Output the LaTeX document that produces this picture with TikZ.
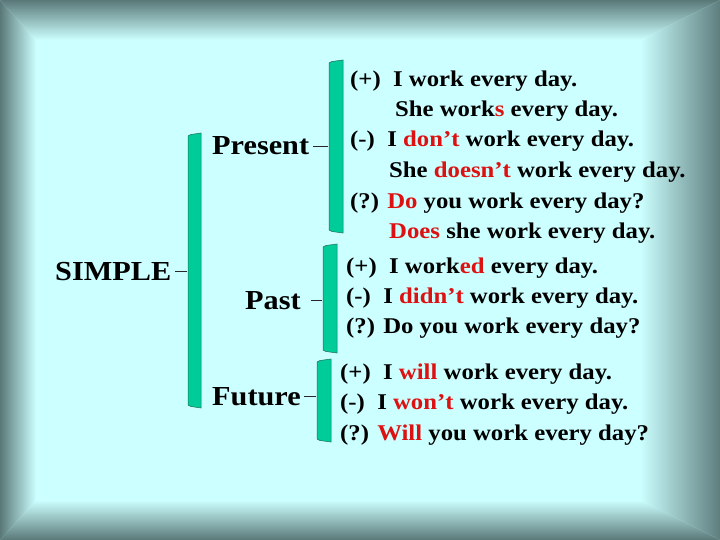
\documentclass[tikz,border=0pt]{standalone}
\usepackage{fontspec}
\setmainfont{Liberation Serif}[FakeStretch=1.1]
\definecolor{bgcyan}{HTML}{CCFFFF}
\definecolor{edgedark}{HTML}{5A7878}
\definecolor{edgedark2}{HTML}{5E7E7E}
\definecolor{barg}{HTML}{00CC99}
\definecolor{bardark}{HTML}{1E6E55}
\definecolor{hl}{HTML}{DD1111}
\tikzset{
  line/.style={anchor=base west,inner sep=0pt,font=\fontsize{22.5}{27}\selectfont\bfseries},
  lbl/.style={anchor=base west,inner sep=0pt,font=\fontsize{27.5}{32}\selectfont\bfseries},
  conn/.style={draw=black!85,line width=0.9pt},
  barfill/.style={fill=barg,draw=bardark,line width=0.5pt}
}
\newcommand{\rd}[1]{\textcolor{hl}{#1}}
\newcommand{\brbar}[5]{% x1 x2 ytop ybot name
  \path[barfill] (#1,#3+2) -- (#1+3,#3+0.5) -- (#2,#3-1) -- (#2,#4+1) -- (#1+3,#4-0.5) -- (#1,#4-2) -- cycle;
}
\begin{document}
\begin{tikzpicture}[x=1pt,y=-1pt]
\useasboundingbox (0,0) rectangle (720,540);
% background with bevel frame
\fill[bgcyan] (0,0) rectangle (720,540);
\shade[top color=edgedark,bottom color=bgcyan] (0,0) -- (720,0) -- (640,40) -- (36,40) -- cycle;
\shade[left color=edgedark,right color=bgcyan] (0,0) -- (36,40) -- (36,500) -- (0,540) -- cycle;
\shade[left color=bgcyan,right color=edgedark2] (720,0) -- (640,40) -- (640,500) -- (720,540) -- cycle;
\shade[top color=bgcyan,bottom color=edgedark] (0,540) -- (36,500) -- (640,500) -- (720,540) -- cycle;
% brackets
\brbar{188}{201}{134}{407}{}
\brbar{329}{343}{61}{232}{}
\brbar{323}{337}{245}{352}{}
\brbar{317}{331}{360}{441}{}
\coordinate (bigtip) at (187,271);
\coordinate (pretip) at (328,146);
\coordinate (pasttip) at (322,300);
\coordinate (futtip) at (316,396);
% labels
\node[lbl] (simple) at (55,280) {SIMPLE};
\node[lbl] (present) at (212,155) {Present};
\node[lbl] (past) at (245,309) {Past};
\node[lbl] (future) at (212,405) {Future};
% connectors
\draw[conn] (simple.east |- bigtip) ++(4,0) coordinate (sA) -- (bigtip);
\draw[conn] (present.east |- pretip) ++(4,0) coordinate (pA) -- (pretip);
\draw[conn] (past.east |- pasttip) ++(10,0) coordinate (paA) -- (pasttip);
\draw[conn] (future.east |- futtip) ++(3,0) coordinate (fA) -- (futtip);
% present
\node[line] (p1) at (350,87) {(+)\ \ I work every day.};
\node[line] (p2) at (395,117) {She work\rd{s} every day.};
\node[line] (p3) at (350,147) {(-)\ \ I \rd{don’t} work every day.};
\node[line] (p4) at (389,178) {She \rd{doesn’t} work every day.};
\node[line] (p5) at (350,208) {(?) \rd{Do} you work every day?};
\node[line] (p6) at (389,239) {\rd{Does} she work every day.};
% past
\node[line] (s1) at (346,273) {(+)\ \ I work\rd{ed} every day.};
\node[line] (s2) at (346,303) {(-)\ \ I \rd{didn’t} work every day.};
\node[line] (s3) at (346,333) {(?) Do you work every day?};
% future
\node[line] (f1) at (340,379) {(+)\ \ I \rd{will} work every day.};
\node[line] (f2) at (340,409) {(-)\ \ I \rd{won’t} work every day.};
\node[line] (f3) at (340,440) {(?) \rd{Will} you work every day?};
\end{tikzpicture}
\end{document}
